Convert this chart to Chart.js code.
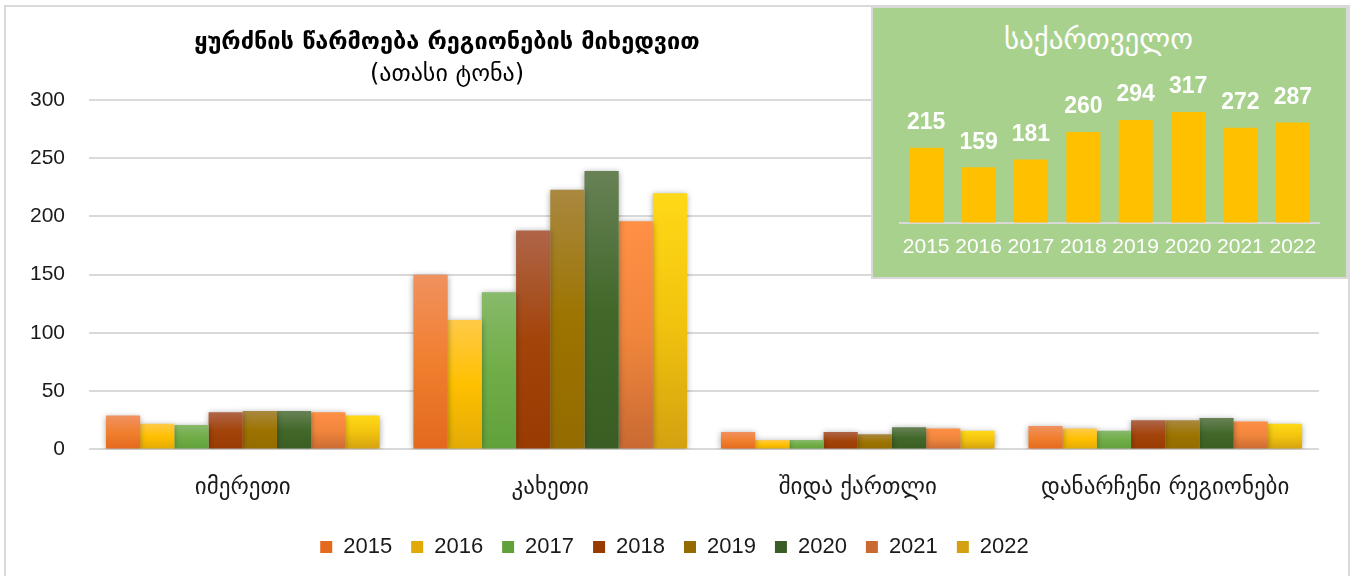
<!DOCTYPE html>
<html>
<head>
<meta charset="utf-8">
<script src="https://cdn.jsdelivr.net/npm/chart.js@4/dist/chart.umd.min.js"></script>
<style>
  body { margin: 0; background: #fff; font-family: "DejaVu Sans", sans-serif; }
  #wrap { position: relative; width: 1354px; height: 576px; overflow: hidden; }
  #frame { position: absolute; left: 4px; top: 5px; width: 1346px; height: 600px;
           border: 2px solid #d9d9d9; box-sizing: border-box; }
  #main { position: absolute; left: 0; top: 0; }
  .title { position: absolute; left: 97px; width: 700px; text-align: center; color: #000; }
  #t1 { top: 27px; font-size: 23.5px; font-weight: bold; }
  #t2 { top: 59px; font-size: 24px; }
  #inset { position: absolute; left: 871px; top: 6px; width: 477px; height: 273px;
           background: #a9d18e; border: 2px solid #d9d9d9; box-sizing: border-box; }
  #insetTitle { position: absolute; left: 0; top: 14px; width: 100%; text-align: center;
                color: #fff; font-size: 29px; padding-right: 22px; box-sizing: border-box; }
  #geo { position: absolute; left: 0; top: 0; }
</style>
</head>
<body>
<div id="wrap">
  <div id="frame"></div>
  <canvas id="main" width="1354" height="576"></canvas>
  <div class="title" id="t1">ყურძნის წარმოება რეგიონების მიხედვით</div>
  <div class="title" id="t2">(ათასი ტონა)</div>
  <div id="inset">
    <div id="insetTitle">საქართველო</div>
    <canvas id="geo" width="473" height="269"></canvas>
  </div>
</div>
<script>
// regions on the x axis
var regions = ['იმერეთი', 'კახეთი', 'შიდა ქართლი', 'დანარჩენი რეგიონები'];
var years = ['2015', '2016', '2017', '2018', '2019', '2020', '2021', '2022'];

// thousand tonnes, one array per year (imereti, kakheti, shida kartli, other)
var y2015 = [29, 150, 15, 20];
var y2016 = [22, 111, 8, 18];
var y2017 = [21, 135, 8, 16];
var y2018 = [32, 188, 15, 25];
var y2019 = [33, 223, 13, 25];
var y2020 = [33, 239, 19, 27];
var y2021 = [32, 196, 18, 24];
var y2022 = [29, 220, 16, 22];

// whole country totals
var georgiaTotals = [215, 159, 181, 260, 294, 317, 272, 287];

var yTicks = [0, 50, 100, 150, 200, 250, 300];

var yearValues = [y2015, y2016, y2017, y2018, y2019, y2020, y2021, y2022];

// light top / base / dark bottom for each year's bars
var topColors = ['#f09160', '#ffca48', '#88ba6b', '#af6548', '#a98840', '#688256', '#ff9045', '#ffd917'];
var midColors = ['#f07f2e', '#ffc000', '#70ad47', '#a3440a', '#9d7400', '#416829', '#f0863c', '#f2c30e'];
var botColors = ['#e3691d', '#e2aa06', '#61a13a', '#983b02', '#946b00', '#3a5d23', '#c96a33', '#d3a111'];

function barGradient(i) {
    return function (c) {
        var chart = c.chart;
        if (!chart.chartArea || c.type !== 'data') return midColors[i];
        var yScale = chart.scales.y;
        var top = yScale.getPixelForValue(c.raw);
        var base = yScale.getPixelForValue(0);
        if (!(base > top)) return midColors[i];
        var g = chart.ctx.createLinearGradient(0, top, 0, base);
        g.addColorStop(0, topColors[i]);
        g.addColorStop(0.5, midColors[i]);
        g.addColorStop(1, botColors[i]);
        return g;
    };
}

var datasets = years.map(function (yr, i) {
    return {
        label: yr,
        data: yearValues[i],
        backgroundColor: barGradient(i),
        borderWidth: 0,
        categoryPercentage: 0.89,
        barPercentage: 1.0
    };
});

// soft shadow behind the bars
var barShadow = {
    id: 'barShadow',
    beforeDatasetsDraw: function (chart) {
        var ctx = chart.ctx;
        ctx.save();
        ctx.shadowColor = 'rgba(0,0,0,0.35)';
        ctx.shadowBlur = 6;
        ctx.shadowOffsetX = 0;
        ctx.shadowOffsetY = 1;
    },
    afterDatasetsDraw: function (chart) {
        chart.ctx.restore();
    }
};

// the legend is centred on the whole frame, not on the plot
var legendShift = {
    id: 'legendShift',
    afterLayout: function (chart) {
        chart.legend.left += 12;
        chart.legend.right += 12;
    }
};

new Chart(document.getElementById('main').getContext('2d'), {
    type: 'bar',
    data: { labels: regions, datasets: datasets },
    options: {
        responsive: false,
        animation: false,
        layout: { padding: { top: 100, left: 6, right: 35, bottom: 8 } },
        scales: {
            x: {
                grid: { display: false },
                border: { display: false },
                ticks: { color: '#1a1a1a', padding: 17, font: { family: 'DejaVu Sans', size: 23 } },
                afterFit: function (scale) { scale.height -= 2; }
            },
            y: {
                min: 0,
                max: 300,
                afterBuildTicks: function (scale) {
                    scale.ticks = yTicks.map(function (v) { return { value: v }; });
                },
                grid: { color: '#d9d9d9', lineWidth: 2, drawTicks: false },
                border: { display: false },
                ticks: { color: '#1a1a1a', padding: 24, font: { family: 'Liberation Sans', size: 21 } }
            }
        },
        plugins: {
            legend: {
                position: 'bottom',
                labels: {
                    color: '#1a1a1a',
                    boxWidth: 12,
                    boxHeight: 12,
                    padding: 19,
                    font: { family: 'Liberation Sans', size: 22 }
                }
            },
            tooltip: { enabled: false }
        }
    },
    plugins: [barShadow, legendShift]
});

// value labels over the country bars
var valueLabels = {
    id: 'valueLabels',
    afterDatasetsDraw: function (chart) {
        var ctx = chart.ctx;
        var meta = chart.getDatasetMeta(0);
        ctx.save();
        ctx.fillStyle = '#ffffff';
        ctx.font = 'bold 23px "Liberation Sans"';
        ctx.textAlign = 'center';
        ctx.textBaseline = 'middle';
        meta.data.forEach(function (bar, i) {
            ctx.fillText(String(chart.data.datasets[0].data[i]), bar.x, bar.y - 25);
        });
        ctx.restore();
    }
};

new Chart(document.getElementById('geo').getContext('2d'), {
    type: 'bar',
    data: {
        labels: years,
        datasets: [{
            label: 'საქართველო',
            data: georgiaTotals,
            backgroundColor: '#ffc000',
            borderWidth: 0,
            categoryPercentage: 1.0,
            barPercentage: 0.65
        }]
    },
    options: {
        responsive: false,
        animation: false,
        layout: { padding: { top: 75, left: 27, right: 27, bottom: 5 } },
        scales: {
            x: {
                grid: { display: false, drawTicks: false },
                border: { color: '#d9d9d9', width: 2 },
                ticks: {
                    color: '#ffffff',
                    padding: 12,
                    maxRotation: 0,
                    minRotation: 0,
                    autoSkip: false,
                    font: { family: 'Liberation Sans', size: 21 }
                }
            },
            y: { display: false, min: 0, max: 400 }
        },
        plugins: { legend: { display: false }, tooltip: { enabled: false } }
    },
    plugins: [valueLabels]
});
</script>
</body>
</html>
